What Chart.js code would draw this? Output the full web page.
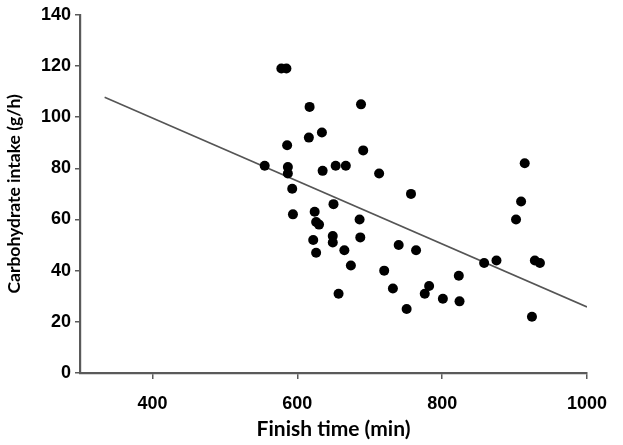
<!DOCTYPE html>
<html>
<head>
<meta charset="utf-8">
<script src="https://cdn.jsdelivr.net/npm/chart.js@4"></script>
<style>
html,body{margin:0;padding:0;background:#fff;}
#wrap{width:623px;height:445px;position:relative;}
</style>
</head>
<body>
<div id="wrap"><canvas id="c" width="623" height="445"></canvas></div>
<script>
const finishTime = [578,585,617,688,586,616,634,691,555,587,587,635,653,667,593,650,594,624,626,630,686,622,649,649,687,626,665,674,657,713,757,914,909,902,740,764,720,732,751,782,776,801,823,824,858,875,928,935,924];
const carbIntake = [119,119,104,105,89,92,94,87,81,80.5,78,79,81,81,72,66,62,63,59,58,60,52,53.5,51,53,47,48,42,31,78,70,82,67,60,50,48,40,33,25,34,31,29,38,28,43,44,44,43,22];
const trendX = [334,1000];
const trendY = [107.8,25.8];
const xTicks = [400,600,800,1000];
const yTicks = [0,20,40,60,80,100,120,140];

const points = finishTime.map((x,i)=>({x:x,y:carbIntake[i]}));
const trend = trendX.map((x,i)=>({x:x,y:trendY[i]}));
const axisColor = '#5a5a5a';

new Chart(document.getElementById('c'), {
  type:'scatter',
  data:{datasets:[
    {type:'line',data:trend,borderColor:'#555',borderWidth:1.6,pointRadius:0,fill:false,order:2},
    {data:points,backgroundColor:'#000',borderColor:'#000',pointRadius:5,borderWidth:0,order:1}
  ]},
  options:{
    responsive:false,animation:false,
    layout:{padding:{left:0,right:36,top:9,bottom:0}},
    plugins:{legend:{display:false},tooltip:{enabled:false}},
    scales:{
      x:{type:'linear',min:300,max:1000,
        afterBuildTicks:s=>{s.ticks=xTicks.map(v=>({value:v}));},
        afterFit:s=>{s.height=72;},
        border:{display:true,color:axisColor,width:2.2},
        grid:{display:true,drawOnChartArea:false,drawTicks:true,tickLength:6,color:axisColor,lineWidth:1.5},
        ticks:{color:'#000',font:{family:'Liberation Sans',weight:'bold',size:18},padding:14,maxRotation:0,callback:v=>String(v)},
        title:{display:true,text:'Finish time (min)',color:'#000',font:{family:'Lato',weight:'bold',size:21},padding:{top:0,bottom:3}}
      },
      y:{type:'linear',min:0,max:140,
        afterBuildTicks:s=>{s.ticks=yTicks.map(v=>({value:v}));},
        afterFit:s=>{s.width=80;},
        border:{display:true,color:axisColor,width:2.2},
        grid:{display:true,drawOnChartArea:false,drawTicks:true,tickLength:5,color:axisColor,lineWidth:1.5},
        ticks:{color:'#000',font:{family:'Liberation Sans',weight:'bold',size:18},padding:4,callback:v=>String(v)},
        title:{display:true,text:'Carbohydrate intake (g/h)',color:'#000',font:{family:'Lato',weight:'bold',size:17.5},padding:{top:4,bottom:0}}
      }
    }
  }
});
</script>
</body>
</html>
